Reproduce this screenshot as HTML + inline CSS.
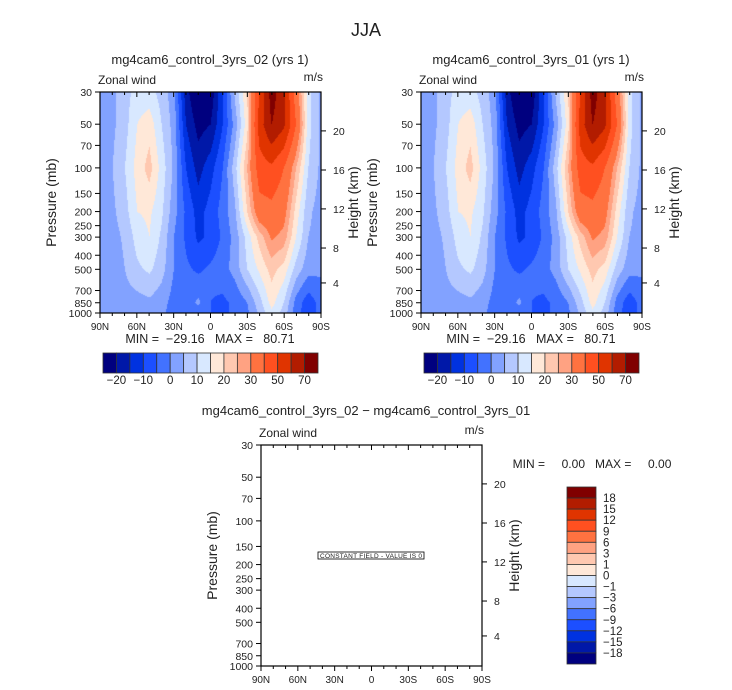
<!DOCTYPE html>
<html><head><meta charset="utf-8">
<style>
body{margin:0;background:#fff;}
#wrap{position:relative;width:732px;height:690px;overflow:hidden;font-family:"Liberation Sans",sans-serif;}
canvas{position:absolute;}
svg{position:absolute;left:0;top:0;}
svg text{white-space:pre;}
</style></head>
<body>
<div id="wrap">
<canvas id="c1" width="221" height="221" style="left:100px;top:92px"></canvas>
<canvas id="c2" width="221" height="221" style="left:421px;top:92px"></canvas>
<svg id="s" width="732" height="690"></svg>
</div>
<script>
// ---- data ----
const lats = [90,80,70,60,50,40,30,20,10,0,-10,-20,-30,-40,-50,-60,-70,-80,-90];
const pLevels = [30,50,100,200,300,500,850,1000];
const u30  = [3,4,8,12,12,8,2,-18,-26,-24,-10,6,20,50,75,62,35,12,4];
const u50  = [3,4,8,15,18,10,3,-15,-22,-20,-10,2,18,55,70,62,40,12,4];
const u100 = [3,5,10,17,22,13,4,-10,-17,-12,-5,8,25,45,48,40,25,10,4];
const u200 = [2,4,8,15,16,11,2,-6,-12,-8,-3,4,20,36,37,33,18,6,3];
const u300 = [2,3,6,12,15,9,0,-6,-11,-9,-4,2,12,22,31,28,15,5,3];
const u500 = [1,2,5,9,11,7,0,-4,-6,-4,-2,2,10,16,22,18,8,2,1];
const u850 = [2,2,3,3,4,2,-2,-3,1,-5,-6,-4,0,8,17,10,-2,-8,-3];
const u1000= [2,2,2,3,3,1,-2,-3,-2,-5,-6,-4,-1,6,14,8,-3,-8,-3];
const levels = [-20,-15,-10,-5,0,5,10,15,20,25,30,40,50,60,70];
const levelLabels = ["-20","-10","0","10","20","30","50","70"];
const diffLabels = ["18","15","12","9","6","3","1","0","−1","−3","−6","−9","−12","−15","−18"];
const pTicks = [30,50,70,100,150,200,250,300,400,500,700,850,1000];
const latTicks = ["90N","60N","30N","0","30S","60S","90S"];
const hTicks = [20,16,12,8,4];
const hFrac = [0.176,0.353,0.529,0.706,0.864];
const colors = ["#00007f","#0018a8","#0032e0","#1c4fff","#4272ff","#82a2ff","#b4c8ff","#d8e8ff","#ffe8d8","#ffc8b0","#ffa282","#ff7240","#ff5020","#e03400","#b21c00","#800000"];
const rows=[u30,u50,u100,u200,u300,u500,u850,u1000];

const W=221,H=221;
const lp0=Math.log(30), lp1=Math.log(1000);
function yOfP(p){return (Math.log(p)-lp0)/(lp1-lp0)*H;}
function colorOf(v){let i=0;while(i<levels.length&&v>=levels[i])i++;return colors[i];}
function valueAt(fx,fy){
  const lp=lp0+fy*(lp1-lp0);
  let r=0;while(r<pLevels.length-2&&Math.log(pLevels[r+1])<lp)r++;
  const a=Math.log(pLevels[r]),b=Math.log(pLevels[r+1]);
  const ty=Math.min(1,Math.max(0,(lp-a)/(b-a)));
  const cx=fx*(lats.length-1);let c=Math.min(lats.length-2,Math.floor(cx));const tx=cx-c;
  const v0=rows[r][c]*(1-tx)+rows[r][c+1]*tx;
  const v1=rows[r+1][c]*(1-tx)+rows[r+1][c+1]*tx;
  return v0*(1-ty)+v1*ty;
}
['c1','c2'].forEach(id=>{
  const ctx=document.getElementById(id).getContext('2d');
  for(let y=0;y<H;y++)for(let x=0;x<W;x++){
    ctx.fillStyle=colorOf(valueAt(x/(W-1),y/(H-1)));ctx.fillRect(x,y,1,1);
  }
});

const svg=document.getElementById('s');const NS='http://www.w3.org/2000/svg';
function el(t,a,txt){const e=document.createElementNS(NS,t);for(const k in a)e.setAttribute(k,a[k]);if(txt!==undefined)e.textContent=txt;svg.appendChild(e);return e;}
function txt(x,y,s,size,anchor,name,rot){const a={x:x,y:y,'font-size':size,'text-anchor':anchor||'middle',fill:'#222','font-family':'Liberation Sans, sans-serif'};if(rot)a.transform='rotate(-90 '+x+' '+y+')';const e=el('text',a,s);

return e;}

txt(366,36,'JJA',18,'middle','main-title');

function axes(ox,oy,title,tname){
  if(title){txt(ox+110,64,title,13,'middle',tname);}
  txt(ox-2,oy-8,'Zonal wind',12,'start','zonal-wind-label');
  txt(ox+W+2,oy-11,'m/s',12,'end','units-label');
  const f=el('rect',{x:ox,y:oy,width:W,height:H,fill:'none',stroke:'#000','stroke-width':1.2});
  
  
  pTicks.forEach(p=>{const y=oy+yOfP(p);
    const t=el('line',{x1:ox-5,x2:ox,y1:y,y2:y,stroke:'#000'});
    
    
    txt(ox-8,y+4,String(p),10.5,'end','pressure-tick-label');});
  hTicks.forEach((h,i)=>{const y=oy+hFrac[i]*H;
    const t=el('line',{x1:ox+W,x2:ox+W+5,y1:y,y2:y,stroke:'#000'});
    
    
    txt(ox+W+12,y+4,String(h),10.5,'start','height-tick-label');});
  for(let i=0;i<=18;i++){const x=ox+i*W/18;const L=i%3==0?5:3;
    const t=el('line',{x1:x,x2:x,y1:oy+H,y2:oy+H+L,stroke:'#000'});
    
    
    const t2=el('line',{x1:x,x2:x,y1:oy,y2:oy+L,stroke:'#000'});
    
    }
  latTicks.forEach((s,i)=>txt(ox+i*W/6,oy+H+17,s,10,'middle','lat-tick-label'));
  txt(ox-44,oy+H/2,'Pressure (mb)',14,'middle','y-axis-title',true);
  txt(ox+W+37,oy+H/2,'Height (km)',14,'middle','y2-axis-title',true);
}
axes(100,92,'mg4cam6_control_3yrs_02 (yrs 1)','left-title');
axes(421,92,'mg4cam6_control_3yrs_01 (yrs 1)','right-title');
axes(261,445,null);
txt(210,343,'MIN =  −29.16   MAX =   80.71',12.5,'middle','left-min-max');
txt(531,343,'MIN =  −29.16   MAX =   80.71',12.5,'middle','right-min-max');
txt(366,415,'mg4cam6_control_3yrs_02 − mg4cam6_control_3yrs_01',13,'middle','diff-title');
txt(592,468,'MIN =     0.00   MAX =     0.00',12,'middle','diff-min-max');

function hbar(x0,y0){const bw=215/16;
  colors.forEach((c,i)=>{const r=el('rect',{x:x0+i*bw,y:y0,width:bw,height:20,fill:c,stroke:'#333','stroke-width':0.8});
    
    });
  levelLabels.forEach((s,i)=>txt(x0+(1+2*i)*bw,y0+31,s.replace('-','−'),11.5,'middle','colorbar-label'));
}
hbar(103,353);hbar(424,353);

const bh=177/16;
colors.slice().reverse().forEach((c,i)=>{const r=el('rect',{x:567,y:487+i*bh,width:29,height:bh,fill:c,stroke:'#333','stroke-width':0.8});
  
  });
diffLabels.forEach((s,i)=>txt(603,487+(i+1)*bh+4,s,11.5,'start','diff-colorbar-label'));

const cf=el('rect',{x:318,y:552,width:106,height:7,fill:'#fff',stroke:'#000','stroke-width':0.8});


const ct=txt(371,558,'CONSTANT FIELD - VALUE IS 0',6.5,'middle','constant-field-label');
ct.setAttribute('textLength','102');
</script>
</body></html>
